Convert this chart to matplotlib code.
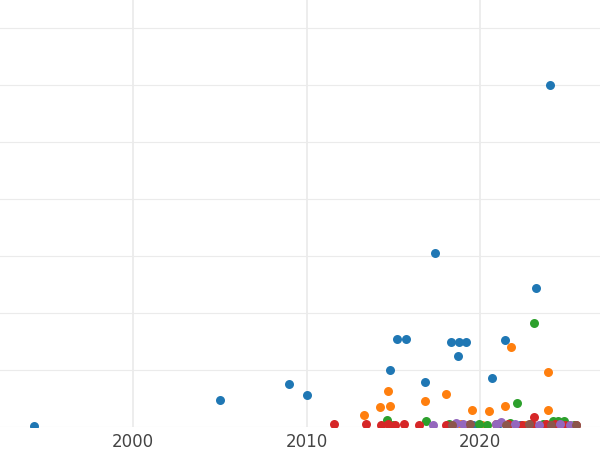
import matplotlib

matplotlib.use("Agg")
import matplotlib.pyplot as plt

# values (x = year, y = value in grid units)
blue_x = [1994.3, 2005.0, 2009.0, 2010.0, 2014.8, 2015.2, 2015.7, 2016.8, 2017.4, 2018.3,
          2018.7, 2018.8, 2019.2, 2020.7, 2021.4, 2023.2, 2024.0, 2018.5, 2019.6, 2021.0,
          2022.3, 2023.6, 2024.9]
blue_y = [0.02, 0.47, 0.75, 0.56, 1.0, 1.54, 1.54, 0.79, 3.05, 1.49,
          1.25, 1.49, 1.49, 0.86, 1.53, 2.44, 6.0, 0.03, 0.04, 0.05,
          0.03, 0.04, 0.03]
orange_x = [2013.3, 2014.2, 2014.7, 2014.8, 2016.8, 2018.0, 2019.5, 2020.5, 2021.4, 2021.8,
            2023.9, 2023.9, 2018.9, 2020.1, 2022.6, 2024.5, 2025.1]
orange_y = [0.21, 0.35, 0.63, 0.37, 0.46, 0.58, 0.30, 0.28, 0.37, 1.40,
            0.96, 0.30, 0.05, 0.04, 0.04, 0.05, 0.03]
green_x = [2014.6, 2016.9, 2022.1, 2023.1, 2024.8, 2015.0, 2018.2, 2019.9, 2020.4, 2021.7,
           2022.9, 2023.6, 2024.2, 2024.5, 2025.4]
green_y = [0.12, 0.10, 0.42, 1.82, 0.10, 0.04, 0.05, 0.06, 0.04, 0.07,
           0.05, 0.06, 0.10, 0.10, 0.04]
red_x = [2011.6, 2013.4, 2014.3, 2014.7, 2015.1, 2015.6, 2016.5, 2018.0, 2023.1, 2019.3,
         2020.9, 2021.6, 2022.4, 2023.0, 2023.8, 2024.3, 2024.9, 2025.5]
red_y = [0.05, 0.05, 0.04, 0.05, 0.04, 0.05, 0.04, 0.04, 0.18, 0.04,
         0.05, 0.06, 0.04, 0.04, 0.05, 0.06, 0.04, 0.04]
purple_x = [2017.3, 2018.6, 2019.0, 2020.9, 2021.2, 2022.0, 2023.4, 2024.6, 2025.2]
purple_y = [0.03, 0.07, 0.05, 0.05, 0.08, 0.05, 0.04, 0.05, 0.03]
brown_x = [2018.4, 2019.4, 2021.5, 2022.8, 2024.1, 2025.5]
brown_y = [0.04, 0.05, 0.04, 0.05, 0.04, 0.03]

fig = plt.figure(figsize=(6, 4.5), dpi=100)
ax = fig.add_axes([0, 0.051, 1, 0.949])

series = [
    (blue_x, blue_y, "#1f77b4"),
    (orange_x, orange_y, "#ff7f0e"),
    (green_x, green_y, "#2ca02c"),
    (red_x, red_y, "#d62728"),
    (purple_x, purple_y, "#9467bd"),
    (brown_x, brown_y, "#8c564b"),
]
for xs, ys, color in series:
    ax.scatter(xs, ys, s=42, color=color, zorder=3, linewidths=0)

ax.set_xlim(1992.33, 2026.9)
ax.set_ylim(0, 7.49)
ax.set_xticks([2000, 2010, 2020])
ax.set_yticks([0, 1, 2, 3, 4, 5, 6, 7])
ax.set_yticklabels([])
ax.tick_params(axis="x", length=0, labelsize=12, labelcolor="#444444", pad=4)
ax.tick_params(axis="y", length=0)
ax.grid(axis="y", color="#ebebeb", linewidth=0.8)
ax.grid(axis="x", color="#e8e8e8", linewidth=1.1)
ax.set_axisbelow(True)
for spine in ax.spines.values():
    spine.set_visible(False)

fig.savefig("out.png", dpi=100)
